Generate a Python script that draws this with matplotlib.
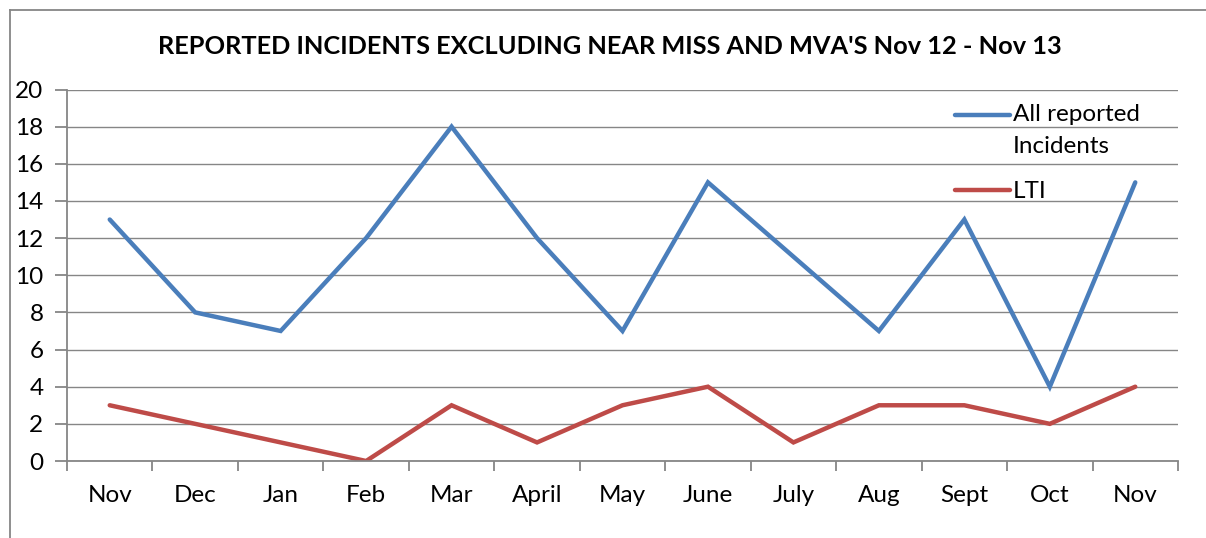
import matplotlib
matplotlib.use("Agg")
import numpy as np
import matplotlib.pyplot as plt
from matplotlib.lines import Line2D
from matplotlib.legend_handler import HandlerLine2D

months = ["Nov", "Dec", "Jan", "Feb", "Mar", "April", "May", "June", "July", "Aug", "Sept", "Oct", "Nov"]
all_incidents = [13, 8, 7, 12, 18, 12, 7, 15, 11, 7, 13, 4, 15]
lti = [3, 2, 1, 0, 3, 1, 3, 4, 1, 3, 3, 2, 4]
yticks = [0, 2, 4, 6, 8, 10, 12, 14, 16, 18, 20]
title = "REPORTED INCIDENTS EXCLUDING NEAR MISS AND MVA'S Nov 12 - Nov 13"

plt.rcParams['font.family'] = ['Lato', 'DejaVu Sans']


class OffsetHandler(HandlerLine2D):
    def __init__(self, dy, **kw):
        super().__init__(**kw)
        self.dy = dy

    def create_artists(self, legend, orig_handle, xdescent, ydescent, width, height, fontsize, trans):
        arts = super().create_artists(legend, orig_handle, xdescent, ydescent, width, height, fontsize, trans)
        for a in arts:
            a.set_ydata(np.asarray(a.get_ydata(), dtype=float) + self.dy)
        return arts


W, H = 1206, 538
fig = plt.figure(figsize=(W / 100, H / 100), dpi=100)
ax = fig.add_axes([67 / W, 1 - 461 / H, (1178 - 67) / W, (461 - 89.5) / H])

gray = "#868686"
FS = 17.5
x = list(range(len(months)))
l1, = ax.plot(x, all_incidents, color="#4A7EBB", lw=3.2, solid_capstyle="round", solid_joinstyle="miter", label="All reported\nIncidents")
l2, = ax.plot(x, lti, color="#BE4B48", lw=3.2, solid_capstyle="round", solid_joinstyle="miter", label="LTI")

ax.set_xlim(-0.5, len(months) - 0.5)
ax.set_ylim(0, 20)
ax.set_yticks(yticks)
ax.set_yticklabels([str(v) for v in yticks])
ax.yaxis.grid(True, color=gray, lw=1.0)
ax.set_axisbelow(True)
ax.set_xticks(x)
ax.set_xticklabels(months)
ax.set_xticks([i - 0.5 for i in range(len(months) + 1)], minor=True)
ax.tick_params(axis="x", which="major", length=0, pad=17, labelsize=FS)
ax.tick_params(axis="x", which="minor", length=7, color=gray, width=1.3)
ax.tick_params(axis="y", length=9, color=gray, width=1.3, pad=8, labelsize=FS)
for s in ["top", "right"]:
    ax.spines[s].set_visible(False)
for s in ["left", "bottom"]:
    ax.spines[s].set_color(gray)
    ax.spines[s].set_linewidth(1.3)

fig.text(610 / W, 1 - 47 / H, title, ha="center", va="center", fontsize=18.3, fontweight="bold")

leg = ax.legend(handles=[l1, l2], loc="upper left", bbox_to_anchor=(955 / W, 1 - 104 / H), bbox_transform=fig.transFigure,
                frameon=False, fontsize=FS, handlelength=2.26, handletextpad=0.12, labelspacing=1.0,
                borderpad=0, borderaxespad=0,
                handler_map={l1: OffsetHandler(11.5), l2: HandlerLine2D()})
for t in leg.get_texts():
    t.set_linespacing(1.65)

# outer border (top and left)
fig.add_artist(Line2D([10 / W, 1], [1 - 9.5 / H, 1 - 9.5 / H], transform=fig.transFigure, color=gray, lw=1.3))
fig.add_artist(Line2D([10 / W, 10 / W], [0, 1 - 9.5 / H], transform=fig.transFigure, color=gray, lw=1.3))

fig.savefig("out.png", dpi=100)
